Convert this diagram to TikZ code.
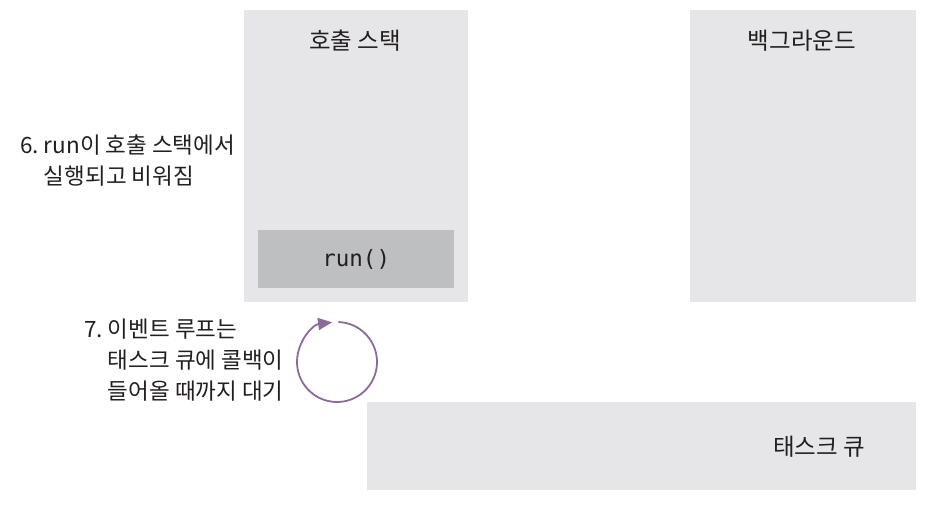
\documentclass[tikz,border=0pt]{standalone}
\usepackage{fontspec}
\setmainfont{Noto Sans CJK KR}
\newfontfamily\monof{DejaVu Sans Mono}
\usetikzlibrary{arrows.meta,calc}
\definecolor{boxgray}{HTML}{E6E6E8}
\definecolor{rungray}{HTML}{BEBFC1}
\definecolor{txtgray}{HTML}{231F20}
\definecolor{loopc}{HTML}{8B6A9E}
\tikzset{
  panel/.style={fill=boxgray, draw=none},
  runbox/.style={fill=rungray, draw=none, inner sep=0pt},
  title/.style={text=txtgray, font=\fontsize{23.5}{27}\selectfont, inner sep=0pt},
  note/.style={text=txtgray, font=\fontsize{22.5}{31}\selectfont, inner sep=0pt, align=left},
  loop/.style={draw=loopc, line width=1.8pt, -{Triangle[length=14pt,width=12pt]}}
}
\begin{document}
\begin{tikzpicture}[x=1pt,y=-1pt]
\useasboundingbox (0,0) rectangle (942,505);
\fill[white] (0,0) rectangle (942,505);
% panels
\path[panel] (244,10) rectangle (468,302);
\path[panel] (690,10) rectangle (916,302);
\path[panel] (367,402) rectangle (916,490);
\node[runbox, minimum width=196pt, minimum height=58pt, anchor=north west] (run) at (258,230) {};
\node[text=txtgray, font=\monof\fontsize{22.5}{26}\selectfont, inner sep=0pt] (runt) at (run.center) {run()};
% titles
\node[title] (cs) at (355,41) {호출 스택};
\node[title] (bg) at (802,41) {백그라운드};
\node[title] (tq) at (819,447) {태스크 큐};
% notes
\node[note, anchor=west] (n6) at (20,163) {\begin{tabular}{@{}l@{\ }l@{}}6. & run이 호출 스택에서\\ & 실행되고 비워짐\end{tabular}};
\node[note, anchor=west] (n7) at (84,362) {\begin{tabular}{@{}l@{\ }l@{}}7. & 이벤트 루프는\\ & 태스크 큐에 콜백이\\ & 들어올 때까지 대기\end{tabular}};
% loop
\coordinate (lc) at (337,362);
\draw[loop] ($(lc)+(-88:40)$) arc[start angle=-88, end angle=263, radius=40];
\end{tikzpicture}
\end{document}
